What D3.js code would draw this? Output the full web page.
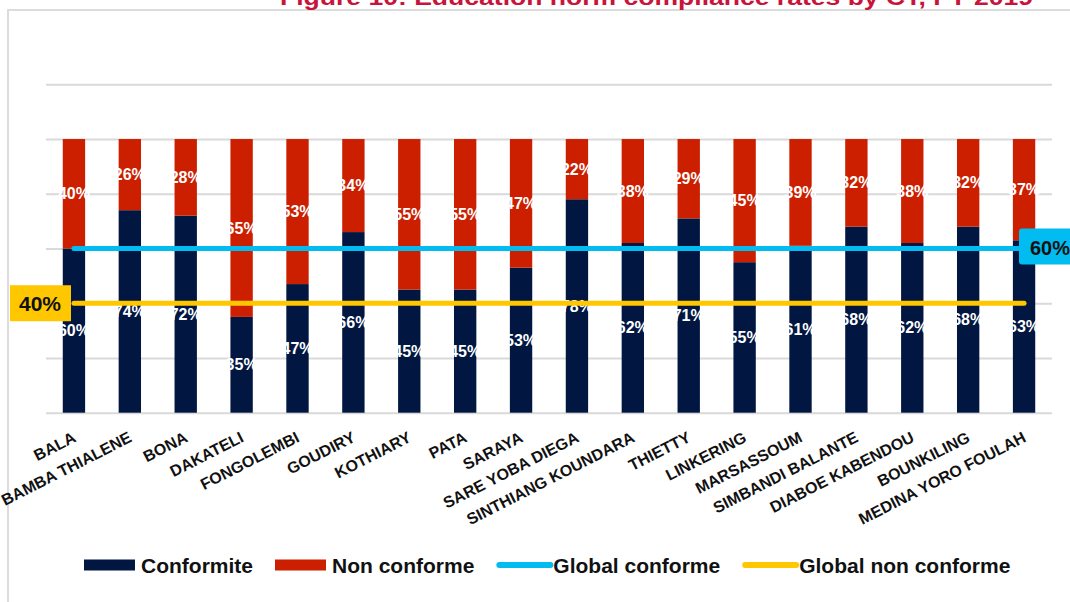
<!DOCTYPE html>
<html>
<head>
<meta charset="utf-8">
<script src="https://cdn.jsdelivr.net/npm/d3@7/dist/d3.min.js"></script>
<style>
  html, body { margin: 0; padding: 0; background: #ffffff; }
  svg { display: block; font-family: "Liberation Sans", Arial, sans-serif; }
</style>
</head>
<body>
<svg id="chart" width="1070" height="602"></svg>
<script>
// Communes (CT) and their compliance rates, in percent
const categories = ["BALA", "BAMBA THIALENE", "BONA", "DAKATELI", "FONGOLEMBI", "GOUDIRY",
  "KOTHIARY", "PATA", "SARAYA", "SARE YOBA DIEGA", "SINTHIANG KOUNDARA", "THIETTY",
  "LINKERING", "MARSASSOUM", "SIMBANDI BALANTE", "DIABOE KABENDOU", "BOUNKILING",
  "MEDINA YORO FOULAH"];
const conformite = [60, 74, 72, 35, 47, 66, 45, 45, 53, 78, 62, 71, 55, 61, 68, 62, 68, 63];
const nonConforme = [40, 26, 28, 65, 53, 34, 55, 55, 47, 22, 38, 29, 45, 39, 32, 38, 32, 37];
const globalConforme = 60;
const globalNonConforme = 40;
const gridTicks = [0, 20, 40, 60, 80, 100, 120];
const legendLabels = ["Conformite", "Non conforme", "Global conforme", "Global non conforme"];
const titleText = "Figure 10: Education norm compliance rates by CT, FY 2019";

const colors = {
  conf: "#011641",
  nonConf: "#cc1f00",
  globalConf: "#00bcf0",
  globalNon: "#ffc700",
  grid: "#d9d9d9",
  title: "#c8143a"
};

const svg = d3.select("#chart");

// outer frame
svg.append("rect")
  .attr("x", 8).attr("y", 10).attr("width", 1200).attr("height", 700)
  .attr("fill", "none").attr("stroke", "#dcdcdc").attr("stroke-width", 2);

// title (sits partly above the page edge)
svg.append("text")
  .attr("x", 280).attr("y", 5)
  .attr("textLength", 753).attr("lengthAdjust", "spacingAndGlyphs")
  .attr("font-size", 22).attr("font-weight", "bold")
  .attr("fill", colors.title)
  .text(titleText);

const x = d3.scaleBand().domain(categories).range([46, 1052]).paddingInner(0.6).paddingOuter(0.3);
const y = d3.scaleLinear().domain([0, 120]).range([412.7, 84.3]);

// horizontal gridlines
const grid = svg.append("g").attr("transform", "translate(46,0)")
  .call(d3.axisLeft(y).tickValues(gridTicks).tickSize(-1006).tickFormat(""));
grid.select(".domain").remove();
grid.selectAll(".tick line").attr("stroke", colors.grid).attr("stroke-width", 2);

// stacked data
const rows = categories.map((c, i) => ({ c, conf: conformite[i], non: nonConforme[i] }));

const bars = svg.append("g");
bars.selectAll("rect.conf").data(rows).join("rect")
  .attr("class", "conf")
  .attr("x", d => x(d.c)).attr("width", x.bandwidth())
  .attr("y", d => y(d.conf)).attr("height", d => y(0) - y(d.conf))
  .attr("fill", colors.conf);
bars.selectAll("rect.non").data(rows).join("rect")
  .attr("class", "non")
  .attr("x", d => x(d.c)).attr("width", x.bandwidth())
  .attr("y", d => y(d.conf + d.non)).attr("height", d => y(d.conf) - y(d.conf + d.non))
  .attr("fill", colors.nonConf);

// value labels centred in each segment
const cx = d => x(d.c) + x.bandwidth() / 2;
const labels = svg.append("g")
  .attr("font-size", 16).attr("font-weight", "bold").attr("fill", "#ffffff")
  .attr("text-anchor", "middle");
labels.selectAll("text.conf").data(rows).join("text")
  .attr("x", cx).attr("y", d => (y(0) + y(d.conf)) / 2).attr("dy", "0.35em")
  .text(d => d.conf + "%");
labels.selectAll("text.non").data(rows).join("text")
  .attr("x", cx).attr("y", d => (y(d.conf) + y(d.conf + d.non)) / 2).attr("dy", "0.35em")
  .text(d => d.non + "%");

// x axis category labels
svg.append("g").selectAll("text").data(categories).join("text")
  .attr("transform", c => `translate(${x(c) + x.bandwidth() / 2 + 3},441) rotate(-27)`)
  .attr("text-anchor", "end")
  .attr("font-size", 16).attr("font-weight", "bold").attr("fill", "#111111")
  .text(c => c);

// global reference lines
const x0 = x(categories[0]) + x.bandwidth() / 2;
const x1 = x(categories[categories.length - 1]) + x.bandwidth() / 2;
svg.append("line")
  .attr("x1", x0).attr("x2", x1).attr("y1", y(globalNonConforme)).attr("y2", y(globalNonConforme))
  .attr("stroke", colors.globalNon).attr("stroke-width", 5).attr("stroke-linecap", "round");
svg.append("line")
  .attr("x1", x0).attr("x2", x1).attr("y1", y(globalConforme)).attr("y2", y(globalConforme))
  .attr("stroke", colors.globalConf).attr("stroke-width", 5).attr("stroke-linecap", "round");

// callout badges
svg.append("rect")
  .attr("x", 10).attr("y", y(globalNonConforme) - 18).attr("width", 61).attr("height", 36)
  .attr("fill", colors.globalNon);
svg.append("text")
  .attr("x", 40).attr("y", y(globalNonConforme)).attr("dy", "0.36em")
  .attr("text-anchor", "middle").attr("font-size", 21).attr("font-weight", "bold").attr("fill", "#111")
  .text(globalNonConforme + "%");

svg.append("rect")
  .attr("x", 1019).attr("y", y(globalConforme) - 20).attr("width", 80).attr("height", 36)
  .attr("rx", 3).attr("fill", colors.globalConf);
svg.append("text")
  .attr("x", 1030).attr("y", y(globalConforme)).attr("dy", "0.3em")
  .attr("font-size", 20).attr("font-weight", "bold").attr("fill", "#111")
  .text(globalConforme + "%");

// legend
const legendKinds = ["rect", "rect", "line", "line"];
const legendColors = [colors.conf, colors.nonConf, colors.globalConf, colors.globalNon];
const legend = svg.append("g").attr("transform", "translate(84,565)");
let lx = 0;
legendLabels.forEach((lab, i) => {
  const g = legend.append("g").attr("transform", `translate(${lx},0)`);
  if (legendKinds[i] === "rect") {
    g.append("rect").attr("x", 0).attr("y", -5.5).attr("width", 51).attr("height", 11)
      .attr("fill", legendColors[i]);
  } else {
    g.append("line").attr("x1", 3).attr("x2", 54).attr("y1", 0).attr("y2", 0)
      .attr("stroke", legendColors[i]).attr("stroke-width", 6).attr("stroke-linecap", "round");
  }
  const t = g.append("text").attr("x", 57).attr("y", 0).attr("dy", "0.36em")
    .attr("font-size", 21).attr("font-weight", "bold").attr("fill", "#111")
    .text(lab);
  lx += 57 + t.node().getComputedTextLength() + 22;
});
</script>
</body>
</html>
